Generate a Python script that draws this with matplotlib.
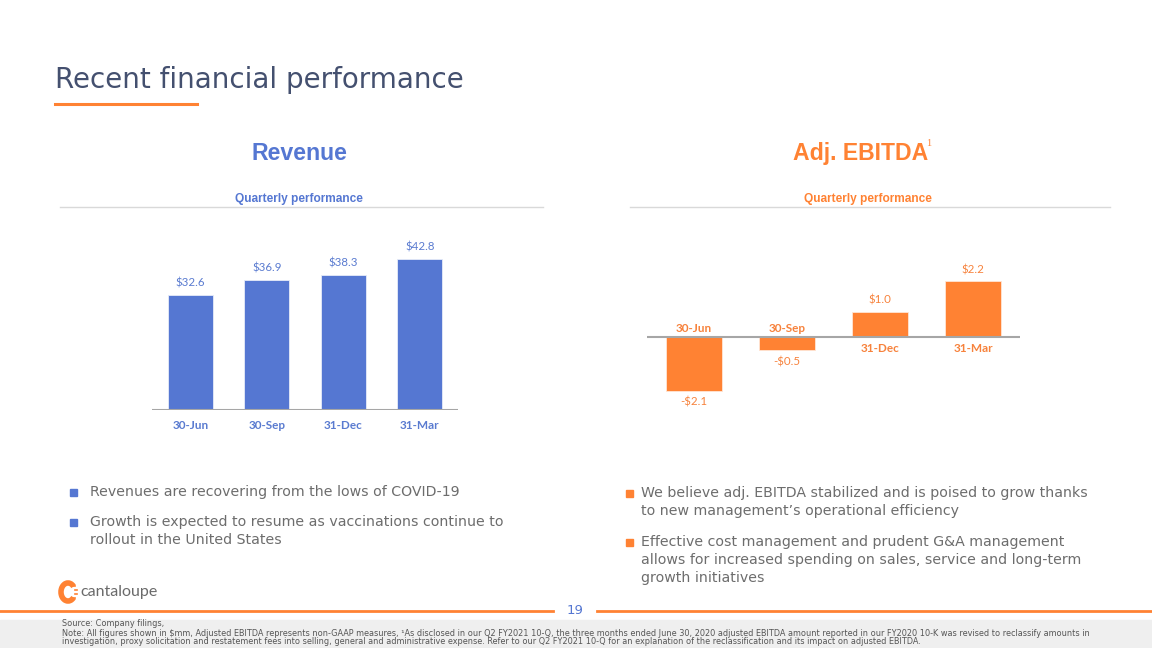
import os
import matplotlib.pyplot as plt
from matplotlib import font_manager
from matplotlib.patches import Rectangle, Arc
from matplotlib.lines import Line2D

quarters = ["30-Jun", "30-Sep", "31-Dec", "31-Mar"]
revenue = [32.6, 36.9, 38.3, 42.8]
ebitda = [-2.1, -0.5, 1.0, 2.2]

left_bullets = [
    ["Revenues are recovering from the lows of COVID-19"],
    ["Growth is expected to resume as vaccinations continue to",
     "rollout in the United States"],
]
right_bullets = [
    ["We believe adj. EBITDA stabilized and is poised to grow thanks",
     "to new management\u2019s operational efficiency"],
    ["Effective cost management and prudent G&A management",
     "allows for increased spending on sales, service and long-term",
     "growth initiatives"],
]

BLUE = "#5577D2"
BLUE_TXT = "#5a7bd0"
ORANGE = "#FF8233"
ORANGE_TXT = "#F7823C"
GRAY_TXT = "#6d6d6d"
W, H = 1152, 648

# plain (not narrow) Arial-like bold for the headers
bold_path = None
for f in font_manager.fontManager.ttflist:
    if os.path.basename(f.fname).lower() == "liberationsans-bold.ttf":
        bold_path = f.fname
        break
if bold_path:
    def hfont(size):
        return font_manager.FontProperties(fname=bold_path, size=size)
else:
    def hfont(size):
        return font_manager.FontProperties(family="DejaVu Sans", weight="bold", size=size)

fig = plt.figure(figsize=(11.52, 6.48), dpi=100)


def fx(x):
    return x / W


def fy(y):
    return 1 - y / H


def ftext(x, y, s, **kw):
    fig.text(fx(x), fy(y), s, **kw)


def hline(x0, x1, y, color, lw):
    fig.add_artist(Line2D([fx(x0), fx(x1)], [fy(y), fy(y)], color=color, lw=lw,
                          transform=fig.transFigure))


# title
ftext(55, 80, "Recent financial performance", fontsize=20, color="#44506F",
      family="DejaVu Sans", va="center", ha="left")
hline(55, 197, 104, ORANGE, 2.2)

# section headers
ftext(299, 153, "Revenue", fontproperties=hfont(16.7), color=BLUE,
      ha="center", va="center")
ftext(861, 153, "Adj. EBITDA", fontproperties=hfont(16.6), color=ORANGE,
      ha="center", va="center")
ftext(929, 144, "1", fontsize=7.5, color=ORANGE, family="Liberation Serif",
      ha="center", va="center")
ftext(299, 199, "Quarterly performance", fontproperties=hfont(8.6), color=BLUE,
      ha="center", va="center")
ftext(868, 199, "Quarterly performance", fontproperties=hfont(8.6), color=ORANGE,
      ha="center", va="center")
hline(60, 543, 206.5, "#d9d9d9", 1)
hline(630, 1110, 206.5, "#d9d9d9", 1)

# revenue chart
ax1 = fig.add_axes([fx(152), fy(410), fx(458) - fx(152), (410 - 230) / H])
x = range(len(quarters))
ax1.bar(x, revenue, width=0.59, color=BLUE, edgecolor="#e6ecf8", lw=0.6)
ax1.set_xlim(-0.5, 3.5)
ax1.set_ylim(0, 51)
ax1.axhline(0, color="#a6a6a6", lw=1.5)
for i, v in enumerate(revenue):
    ax1.annotate("\\$%.1f" % v, (i, v), xytext=(0, 8.5), textcoords="offset points",
                 ha="center", va="center", fontsize=8.3, color=BLUE_TXT, family="Lato")
    ax1.annotate(quarters[i], (i, 0), xytext=(0, -11), textcoords="offset points",
                 ha="center", va="center", fontsize=8.5, weight="bold",
                 color=BLUE_TXT, family="Lato")
ax1.axis("off")

# ebitda chart
ax2 = fig.add_axes([fx(647), fy(410), fx(1020) - fx(647), (410 - 260) / H])
ax2.bar(x, ebitda, width=0.6, color=ORANGE, edgecolor="#ffe6d6", lw=0.6)
ax2.set_xlim(-0.5, 3.5)
ax2.set_ylim(-2.86, 3.02)
ax2.axhline(0, color="#a6a6a6", lw=1.5)
for i, v in enumerate(ebitda):
    if v >= 0:
        lab = "\\$%.1f" % v
        off, cat_off = 8, -8
    else:
        lab = "-\\$%.1f" % abs(v)
        off, cat_off = -8.5, 6
    ax2.annotate(lab, (i, v), xytext=(0, off), textcoords="offset points",
                 ha="center", va="center", fontsize=8.3, color=ORANGE_TXT, family="Lato")
    ax2.annotate(quarters[i], (i, 0), xytext=(0, cat_off), textcoords="offset points",
                 ha="center", va="center", fontsize=8.5, weight="bold",
                 color=ORANGE_TXT, family="Lato")
ax2.axis("off")


# bullets
def bullets(items, xb, xt, ys, col):
    for lines, y in zip(items, ys):
        fig.add_artist(Rectangle((fx(xb - 3.5), fy(y + 3.5)), 7 / W, 7 / H, color=col,
                                 transform=fig.transFigure))
        for k, s in enumerate(lines):
            ftext(xt, y + 18 * k, s, fontsize=10.2, color=GRAY_TXT,
                  family="DejaVu Sans", ha="left", va="center")


bullets(left_bullets, 73, 90, [492, 522], BLUE)
bullets(right_bullets, 629, 641, [493, 542], ORANGE)

# logo
fig.add_artist(Arc((fx(68), fy(592)), 14 / W, 18 / H, theta1=60, theta2=300,
                   color=ORANGE, lw=4, transform=fig.transFigure))
for dx, dy in [(73, 586), (74.5, 590), (74.5, 594), (73, 598)]:
    fig.add_artist(Line2D([fx(dx), fx(dx + 2)], [fy(dy), fy(dy)], color=ORANGE, lw=1.2,
                          transform=fig.transFigure))
ftext(80, 592, "cantaloupe", fontsize=11.5, color="#6a6a6a", family="Lato",
      ha="left", va="center")

# footer
hline(0, 553, 611, ORANGE, 2)
hline(597, 1152, 611, ORANGE, 2)
ftext(575, 611, "19", fontsize=9.5, color=BLUE, family="DejaVu Sans",
      ha="center", va="center")
fig.add_artist(Rectangle((0, 0), 1, 28 / H, color="#efefef",
                         transform=fig.transFigure, zorder=-1))
notes = [
    "Source: Company filings,",
    "Note: All figures shown in \\$mm, Adjusted EBITDA represents non-GAAP measures, \u00b9As disclosed in our Q2 FY2021 10-Q, the three months ended June 30, 2020 adjusted EBITDA amount reported in our FY2020 10-K was revised to reclassify amounts in",
    "investigation, proxy solicitation and restatement fees into selling, general and administrative expense. Refer to our Q2 FY2021 10-Q for an explanation of the reclassification and its impact on adjusted EBITDA.",
]
for s, y in zip(notes, [624, 633, 642]):
    ftext(62, y, s, fontsize=5.85, color="#555555", family="DejaVu Sans",
          ha="left", va="center")

fig.savefig("out.png", dpi=100)
